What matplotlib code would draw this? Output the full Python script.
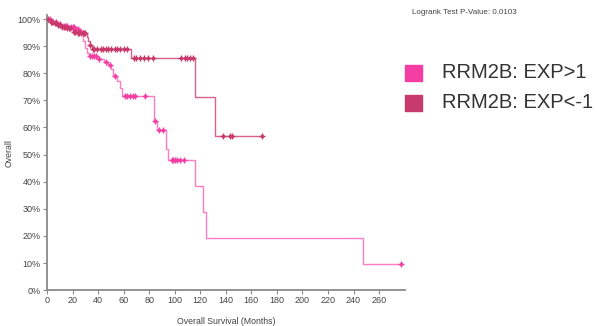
import numpy as np
import matplotlib
matplotlib.use('Agg')
import matplotlib.pyplot as plt
from matplotlib.patches import Rectangle
from matplotlib.ticker import PercentFormatter

plt.rcParams['font.family'] = ['Liberation Sans', 'DejaVu Sans']

# Kaplan-Meier curves, RRM2B expression groups
# EXP>1 group: step times (months) and survival after each step
hi_times = [0, 3, 8, 12, 17, 22, 25, 27, 28.5, 29.5, 31, 33, 40, 45, 48, 50, 52, 55, 57, 59,
            83.5, 86, 93, 94.5, 115.5, 122, 124.5, 247.5]
hi_surv = [1.0, 0.99, 0.98, 0.975, 0.97, 0.965, 0.955, 0.945, 0.92, 0.895, 0.875, 0.862, 0.853,
           0.843, 0.83, 0.815, 0.79, 0.772, 0.745, 0.717, 0.625, 0.59, 0.52, 0.48, 0.385, 0.29,
           0.193, 0.096]
hi_end = 277
hi_censor = [2, 5, 7, 10, 13, 15, 16, 19, 20, 21, 23, 24, 26, 34, 35, 37, 38, 41, 46, 49, 53,
             61, 63, 65, 67, 69, 77, 84.5, 88, 91, 98, 99, 100, 102, 104, 107, 277]

# EXP<-1 group
lo_times = [0, 2, 5, 8, 11, 15, 19, 20, 23, 31, 32, 33.5, 35, 66, 115.5, 131.5]
lo_surv = [1.0, 0.99, 0.985, 0.978, 0.972, 0.968, 0.962, 0.952, 0.947, 0.935, 0.92, 0.905,
           0.888, 0.855, 0.712, 0.569]
lo_end = 168.5
lo_censor = [1, 3, 4, 6, 7, 9, 10, 12, 13, 14, 16, 17, 18, 21, 22, 24, 25, 27, 28, 29, 30, 34,
             36, 37, 39, 42, 44, 46, 48, 50, 53, 55, 57, 60, 63, 68, 70, 73, 76, 79, 83, 105,
             108, 110, 112, 114, 138, 143, 145, 168.5]

labels = ['RRM2B: EXP>1', 'RRM2B: EXP<-1']
colors = ['#f43ea3', '#c83a6c']
line_colors = ['#ff7cc3', '#d8608c']
pvalue_text = 'Logrank Test P-Value: 0.0103'


def surv_at(times, surv, t):
    idx = np.searchsorted(times, t, side='right') - 1
    return np.asarray(surv)[idx]


fig = plt.figure(figsize=(5.98, 3.26), dpi=100)
ax = fig.add_axes([0.0786, 0.110, 0.598, 0.844])

groups = [(hi_times, hi_surv, hi_end, hi_censor), (lo_times, lo_surv, lo_end, lo_censor)]
for (t, s, end, cens), c, lc in zip(groups, colors, line_colors):
    tt = list(t) + [end]
    ss = list(s) + [s[-1]]
    ax.step(tt, ss, where='post', color=lc, lw=1.0, zorder=2)
    ys = surv_at(t, s, cens)
    # censor ticks: small dot with a cross through it
    ax.plot(cens, ys, ls='none', marker='o', ms=2.6, mew=0, color=c, zorder=3)
    ax.plot(cens, ys, ls='none', marker='+', ms=4, mew=1.0, color=c, zorder=3)

ax.set_xlim(0, 280)
ax.set_ylim(0, 1.015)
ax.set_xticks(np.arange(0, 261, 20))
ax.set_yticks(np.arange(0, 1.01, 0.1))
ax.yaxis.set_major_formatter(PercentFormatter(1.0, decimals=0))
for side in ['top', 'right']:
    ax.spines[side].set_visible(False)
for side in ['left', 'bottom']:
    ax.spines[side].set_color('#8a8a8a')
    ax.spines[side].set_linewidth(1.3)
ax.tick_params(colors='#8a8a8a', labelcolor='#444444', labelsize=6.5, length=3, width=0.8, pad=1.5)
ax.set_xlabel('Overall Survival (Months)', fontsize=6.3, color='#444444', labelpad=8)
ax.set_ylabel('Overall', fontsize=6.3, color='#444444', labelpad=3)

fig.text(412 / 598, 1 - 12 / 326, pvalue_text, fontsize=5.8, color='#444444', va='center')

# legend squares and labels
for i, (lab, c) in enumerate(zip(labels, colors)):
    yc = 1 - (73 + i * 30) / 326
    fig.patches.append(Rectangle((405 / 598, yc - 8 / 326), 17 / 598, 16 / 326,
                                 transform=fig.transFigure, color=c))
    fig.text(442 / 598, yc, lab, fontsize=14.5, color='#333333', va='center')

plt.savefig('out.png', dpi=100, facecolor='white')
